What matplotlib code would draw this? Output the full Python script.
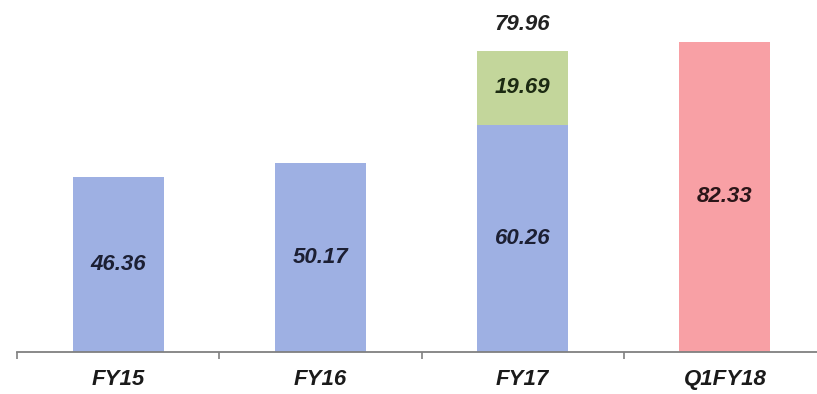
import matplotlib.pyplot as plt

categories = ["FY15", "FY16", "FY17", "Q1FY18"]
base_values = [46.36, 50.17, 60.26, 0]
extra_values = [0, 0, 19.69, 0]
q1_values = [0, 0, 0, 82.33]
fy17_total = 79.96

blue = "#9eb0e3"
green = "#c3d69b"
pink = "#f8a0a5"
label_font = dict(family="Liberation Sans", weight="bold", style="italic", size=16)

fig = plt.figure(figsize=(8.17, 3.94), dpi=100)
ax = fig.add_axes([17 / 817, 42 / 394, 800 / 817, 352 / 394])

x = list(range(len(categories)))
width = 0.45

ax.bar(x[:3], base_values[:3], width, color=blue)
ax.bar(x[2], extra_values[2], width, bottom=base_values[2], color=green)
ax.bar(x[3], q1_values[3], width, color=pink)

# value labels in the middle of each segment
for i in range(3):
    ax.text(x[i], base_values[i] / 2, f"{base_values[i]:.2f}", ha="center", va="center",
            color="#1c1f33", **label_font)
ax.text(x[2], base_values[2] + extra_values[2] / 2, f"{extra_values[2]:.2f}",
        ha="center", va="center", color="#1c2a12", **label_font)
ax.text(x[3], q1_values[3] / 2, f"{q1_values[3]:.2f}", ha="center", va="center",
        color="#2a1518", **label_font)

ax.annotate(f"{fy17_total:.2f}", (x[2], base_values[2] + extra_values[2]),
            xytext=(0, 16), textcoords="offset pixels",
            ha="center", va="bottom", color="#222222", **label_font)

ax.set_xlim(-0.5, 3.455)
ax.set_ylim(0, 93.4)

for side in ["top", "right", "left"]:
    ax.spines[side].set_visible(False)
ax.spines["bottom"].set_color("#808080")
ax.spines["bottom"].set_linewidth(1.3)
ax.set_yticks([])

ax.set_xticks([-0.5, 0.5, 1.5, 2.5])
ax.set_xticklabels([])
ax.tick_params(axis="x", which="major", length=5, width=1.2, color="#808080")
ax.set_xticks(x, minor=True)
ax.set_xticklabels(categories, minor=True, **label_font)
ax.tick_params(axis="x", which="minor", length=0, pad=12, colors="#1a1a1a")

fig.savefig("out.png", dpi=100)
